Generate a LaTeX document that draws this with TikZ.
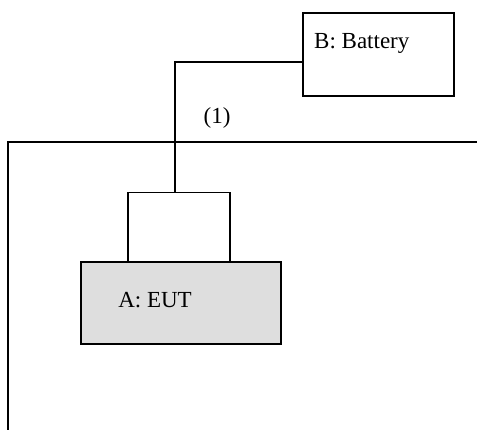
\documentclass[tikz,border=0pt]{standalone}
\usepackage{fontspec}
\setmainfont{Liberation Serif}
\begin{document}
\begin{tikzpicture}[x=1pt,y=-1pt,
  line/.style={line width=1.1pt},
  box/.style={draw,line width=1.1pt,inner sep=0pt},
  lbl/.style={font=\fontsize{23}{27}\selectfont,inner sep=0pt}]
\useasboundingbox (0,0) rectangle (477,430);
\node[box,minimum width=151pt,minimum height=83pt] (bat) at (378.5,54.5) {};
\node[lbl,anchor=west] (battxt) at (314,43) {B: Battery};
\node[box,fill=black!13,minimum width=200pt,minimum height=82pt] (eut) at (181,303) {};
\node[lbl] (euttxt) at (155,300) {A: EUT};
\node[box,fill=white,minimum width=102pt,minimum height=69pt,anchor=south] (small) at (179,262) {};
\node[lbl] (one) at (217,118) {(1)};
\coordinate (ch) at (8,142);
\coordinate (chr) at (477,142);
\coordinate (chb) at (8,430);
\draw[line] (chr) -- (ch) -- (chb);
\draw[line] ([yshift=-7.5pt]bat.west) -| ([xshift=-4pt]small.north);
\end{tikzpicture}
\end{document}
